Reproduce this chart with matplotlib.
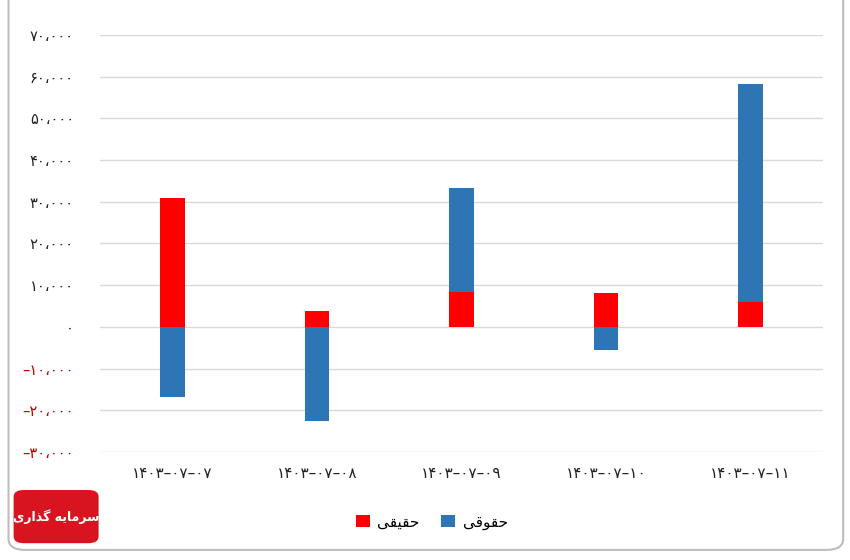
import matplotlib
matplotlib.use("Agg")
import matplotlib.pyplot as plt
import numpy as np
from matplotlib.ticker import FuncFormatter, MultipleLocator
from matplotlib.patches import FancyBboxPatch, Patch

plt.rcParams['font.family'] = ['DejaVu Sans']

# ---- data ----
categories = ["۱۴۰۳–۰۷–۰۷", "۱۴۰۳–۰۷–۰۸", "۱۴۰۳–۰۷–۰۹", "۱۴۰۳–۰۷–۱۰", "۱۴۰۳–۰۷–۱۱"]
haghighi = [31000, 3700, 8300, 8100, 5900]      # حقیقی (red)
hoghoghi = [-16800, -22700, 25100, -5500, 52300]  # حقوقی (blue)

# visual-order presentation forms for RTL labels
label_haghighi = "\uFEF0\uFED8\uFEF4\uFED8\uFEA3"   # حقیقی
label_hoghoghi = "\uFEF0\uFED7\uFEEE\uFED8\uFEA3"   # حقوقی

RED = "#FF0000"
BLUE = "#2E75B6"

PERSIAN = str.maketrans("0123456789", "۰۱۲۳۴۵۶۷۸۹")


def fa_fmt(v, pos=None):
    v = int(round(v))
    if v == 0:
        return "۰"
    s = f"{abs(v):,}".replace(",", "\u060C").translate(PERSIAN)
    return ("\u2013" + s) if v < 0 else s


fig = plt.figure(figsize=(8.5, 5.6), dpi=100)
ax = fig.add_axes([0.118, 0.193, 0.850, 0.7445])

x = np.arange(len(categories))
h = np.array(haghighi, dtype=float)
g = np.array(hoghoghi, dtype=float)
width = 0.17

ax.bar(x, h, width, color=RED, zorder=3, edgecolor="none")
g_bottom = np.where((g >= 0) & (h >= 0), h, np.where((g < 0) & (h < 0), h, 0))
ax.bar(x, g, width, bottom=g_bottom, color=BLUE, zorder=3, edgecolor="none")

ax.set_ylim(-30000, 70000)
ax.set_xlim(-0.5, len(categories) - 0.5)
ax.yaxis.set_major_locator(MultipleLocator(10000))
ax.yaxis.set_major_formatter(FuncFormatter(fa_fmt))
ax.grid(axis="y", color="#D9D9D9", linewidth=1.0, zorder=0)
for s in ax.spines.values():
    s.set_visible(False)
ax.tick_params(axis="both", length=0)
ax.tick_params(axis="y", pad=19, labelsize=10.5, labelcolor="#222222")
ax.set_xticks(x)
ax.set_xticklabels(categories, fontsize=11, color="#222222")
ax.tick_params(axis="x", pad=10)

fig.canvas.draw()
for lbl, val in zip(ax.get_yticklabels(), ax.get_yticks()):
    if val < 0:
        lbl.set_color("#C00000")

handles = [Patch(facecolor=RED), Patch(facecolor=BLUE)]
fig.legend(handles, [label_haghighi, label_hoghoghi], loc="center",
           bbox_to_anchor=(0.508, 0.068), ncol=2, frameon=False, fontsize=11,
           handlelength=0.9, handleheight=0.9, columnspacing=1.4, handletextpad=0.5)

# outer rounded frame
frame = FancyBboxPatch((0.010, 0.018), 0.982, 1.2, boxstyle="round,pad=0,rounding_size=0.02",
                       transform=fig.transFigure, facecolor="none", edgecolor="#BDBDBD",
                       linewidth=1.5, zorder=0)
fig.patches.append(frame)

# logo
logo = FancyBboxPatch((0.016, 0.03), 0.10, 0.095, boxstyle="round,pad=0,rounding_size=0.012",
                      transform=fig.transFigure, facecolor="#D7141F", edgecolor="none")
fig.patches.append(logo)
logo_text = "\uFBFC\uFEAD\uFE8D\uFEAC\uFB94 \uFEEA\uFEF3\uFE8E\uFEE3\uFEAE\uFEB3"  # سرمایه گذاری
fig.text(0.066, 0.078, logo_text, color="white", fontsize=9, fontweight="bold",
         ha="center", va="center")

fig.savefig("out.png", dpi=100, facecolor="white")
